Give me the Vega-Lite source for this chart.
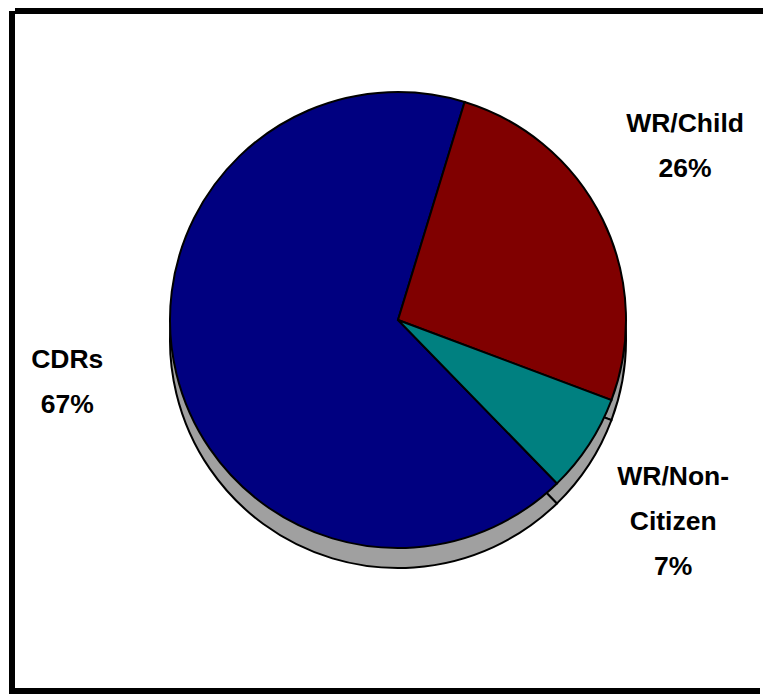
{
  "$schema": "https://vega.github.io/schema/vega-lite/v6.json",
  "width": 751,
  "height": 680,
  "autosize": {"type": "none"},
  "padding": {"left": 12, "top": 11, "right": 0, "bottom": 3},
  "background": "white",
  "view": {"stroke": "black", "strokeWidth": 6, "fill": "white", "strokeDash": [751, 680, 1431], "strokeDashOffset": -3},
  "config": {
    "view": {"stroke": "black", "strokeWidth": 6, "strokeDash": [751, 680, 1431], "strokeDashOffset": -3},
    "style": {"cell": {"stroke": "black", "strokeWidth": 6, "strokeDash": [751, 680, 1431], "strokeDashOffset": -3}}
  },
  "data": {
    "values": [
      {"category": "CDRs", "value": 67, "label": "CDRs\n67%"},
      {"category": "WR/Child", "value": 26, "label": "WR/Child\n26%"},
      {"category": "WR/Non-Citizen", "value": 7, "label": "WR/Non-\nCitizen\n7%"}
    ]
  },
  "encoding": {
    "theta": {"field": "value", "type": "quantitative", "stack": true, "scale": {"range": [2.370, 8.653]}},
    "order": {"field": "category", "type": "ordinal", "sort": "ascending"}
  },
  "layer": [
    {
      "mark": {"type": "arc", "outerRadius": 228, "xOffset": 10.5, "yOffset": -11, "fill": "#A0A0A0", "stroke": "black", "strokeWidth": 2}
    },
    {
      "mark": {"type": "arc", "outerRadius": 228, "xOffset": 10.5, "yOffset": -31, "stroke": "black", "strokeWidth": 2, "opacity": 1},
      "encoding": {
        "color": {
          "field": "category", "type": "nominal", "legend": null,
          "scale": {"domain": ["CDRs", "WR/Child", "WR/Non-Citizen"], "range": ["#000080", "#800000", "#008080"]}
        }
      }
    },
    {
      "mark": {
        "type": "text", "radius": 330, "xOffset": 10.5, "yOffset": -31,
        "dx": {"expr": "datum.category == 'WR/Child' ? -9 : datum.category == 'CDRs' ? -10 : -1"},
        "dy": {"expr": "datum.category == 'WR/Child' ? -50 : datum.category == 'CDRs' ? -38 : -24"},
        "font": "Liberation Sans", "fontWeight": "bold", "fontSize": 26.5, "lineBreak": "\n", "lineHeight": 45,
        "align": "center", "baseline": "middle", "color": "black"
      },
      "encoding": {"text": {"field": "label", "type": "nominal"}}
    }
  ]
}
